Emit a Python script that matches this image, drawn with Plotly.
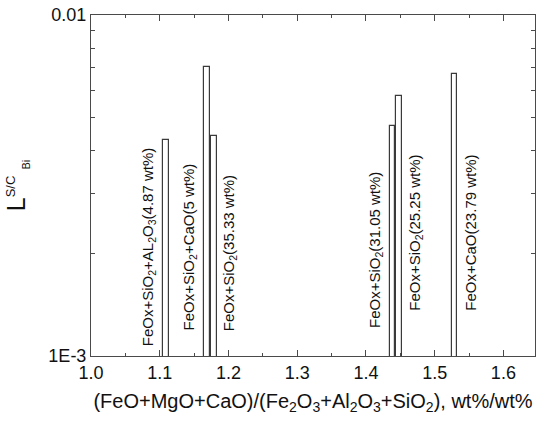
import plotly.graph_objects as go

# Data
ratio = [1.109, 1.169, 1.179, 1.4387, 1.4483, 1.5287]
l_bi = [0.00429, 0.00702, 0.00441, 0.00472, 0.00579, 0.00673]
labels = [
    "FeOx+SiO<sub>2</sub>+AL<sub>2</sub>O<sub>3</sub>(4.87 wt%)",
    "FeOx+SiO<sub>2</sub>+CaO(5 wt%)",
    "FeOx+SiO<sub>2</sub>(35.33 wt%)",
    "FeOx+SiO<sub>2</sub>(31.05 wt%)",
    "FeOx+SiO<sub>2</sub>(25.25 wt%)",
    "FeOx+CaO(23.79 wt%)",
]
label_x = [1.083, 1.1437, 1.2009, 1.413, 1.471, 1.551]
label_base = [0.023, 0.07, 0.067, 0.076, 0.126, 0.126]

y_tickvals = [0.001 * k for k in range(1, 11)]
y_ticktext = ["1E-3"] + [""] * 8 + ["0.01"]
x_tickvals = [1.0, 1.1, 1.2, 1.3, 1.4, 1.5, 1.6]
x_ticktext = ["1.0", "1.1", "1.2", "1.3", "1.4", "1.5", "1.6"]

axcol = "#4a4a4a"
font = "Liberation Sans, Arial, sans-serif"

fig = go.Figure()
fig.add_trace(go.Bar(
    x=ratio, y=l_bi, width=0.008,
    marker=dict(color="white", line=dict(color="#3a3a3a", width=1.2)),
    showlegend=False,
))

for t, xx, yb in zip(labels, label_x, label_base):
    fig.add_annotation(
        text=t, x=xx, y=yb, xref="x", yref="paper",
        textangle=-90, xanchor="center", yanchor="bottom",
        showarrow=False, font=dict(family=font, size=15, color="#111111"),
    )

fig.update_layout(
    width=537, height=423,
    margin=dict(l=91, r=2, t=15, b=67, autoexpand=False),
    plot_bgcolor="white", paper_bgcolor="white",
    font=dict(family=font, size=18, color="#111111"),
    bargap=0,
)
fig.update_xaxes(
    range=[1.0, 1.646], automargin=False,
    tickvals=x_tickvals, ticktext=x_ticktext,
    ticks="inside", ticklen=6, tickcolor=axcol,
    minor=dict(dtick=0.05, tick0=1.0, ticks="inside", ticklen=3, tickcolor=axcol, showgrid=False),
    showline=True, linecolor=axcol, linewidth=1, mirror="ticks",
    showgrid=False, zeroline=False,
    tickfont=dict(size=18),
    title=dict(
        text="(FeO+MgO+CaO)/(Fe<sub>2</sub>O<sub>3</sub>+Al<sub>2</sub>O<sub>3</sub>+SiO<sub>2</sub>), wt%/wt%",
        font=dict(size=20), standoff=12,
    ),
)
fig.update_yaxes(
    type="log", range=[-3, -2], automargin=False,
    tickvals=y_tickvals, ticktext=y_ticktext,
    ticks="inside", ticklen=4, tickcolor=axcol,
    showline=True, linecolor=axcol, linewidth=1, mirror="ticks",
    showgrid=False, zeroline=False,
    tickfont=dict(size=18),
    title=dict(
        text="L<sup><span style='font-size:13px'>S/C</span></sup><sub><span style='font-size:11px'>  Bi</span></sub>",
        font=dict(size=25), standoff=15,
    ),
)

fig.write_html("out.html")
